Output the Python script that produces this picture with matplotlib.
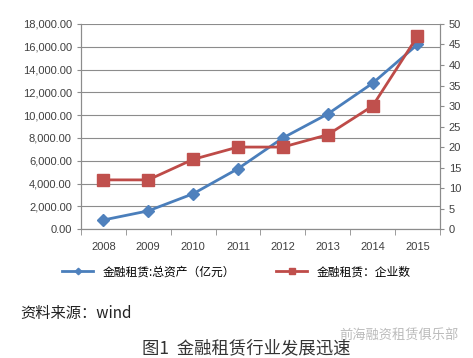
import matplotlib.pyplot as plt
import numpy as np
from matplotlib.ticker import FuncFormatter, MultipleLocator

plt.rcParams['font.family'] = ['Liberation Sans', 'Noto Sans CJK SC', 'DejaVu Sans']

years = ['2008', '2009', '2010', '2011', '2012', '2013', '2014', '2015']
total_assets = [800, 1600, 3100, 5300, 8000, 10100, 12800, 16200]
company_count = [12, 12, 17, 20, 20, 23, 30, 47]

label_assets = '金融租赁:总资产（亿元）'
label_count = '金融租赁：企业数'
source_text = '资料来源：wind'
caption = '图1  金融租赁行业发展迅速'
watermark = '前海融资租赁俱乐部'

blue = '#4A7EBB'
red = '#BE4B48'
grid_c = '#8C8C8C'
tick_c = '#404040'

fig = plt.figure(figsize=(4.73, 3.58), dpi=100)
ax = fig.add_axes([0.171, 0.360, 0.759, 0.573])
ax2 = ax.twinx()

x = np.arange(len(years))

l1, = ax.plot(x, total_assets, color=blue, lw=2, marker='D', ms=6,
              mfc='#4F81BD', mec='#4F81BD', label=label_assets, zorder=3)
l2, = ax2.plot(x, company_count, color=red, lw=2, marker='s', ms=8,
               mfc='#C0504D', mec='#C0504D', label=label_count, zorder=3)

ax.set_xlim(-0.5, len(years) - 0.5)
ax.set_ylim(0, 18000)
ax2.set_ylim(0, 50)
ax.yaxis.set_major_locator(MultipleLocator(2000))
ax2.yaxis.set_major_locator(MultipleLocator(5))
ax.yaxis.set_major_formatter(FuncFormatter(lambda v, p: f'{v:,.2f}'))

ax.set_xticks(x)
ax.set_xticklabels(years)
ax.set_xticks(np.arange(-0.5, len(years)), minor=True)
ax.tick_params(axis='x', which='major', length=0, pad=9, labelsize=8, colors=tick_c)
ax.tick_params(axis='x', which='minor', length=4, color=grid_c, direction='out')
ax.tick_params(axis='y', length=3, color=grid_c, labelsize=8, labelcolor=tick_c)
ax2.tick_params(axis='y', length=3, color=grid_c, labelsize=8, labelcolor=tick_c)

ax.grid(axis='y', color=grid_c, lw=0.8)
ax.set_axisbelow(True)
for a in (ax, ax2):
    a.spines['top'].set_visible(False)
    for s in ('left', 'right', 'bottom'):
        a.spines[s].set_color(grid_c)
        a.spines[s].set_linewidth(0.8)

fig.legend(handles=[l1, l2], loc='center', bbox_to_anchor=(0.5, 0.24), ncol=2,
           frameon=False, handlelength=2.6, columnspacing=3.5, markerscale=0.55,
           prop={'family': ['Noto Sans CJK SC'], 'size': 8.5})

fig.text(0.042, 0.125, source_text, fontsize=11, color='#222222',
         family=['Noto Sans CJK SC'], va='center')
fig.text(0.97, 0.062, watermark, fontsize=9.5, color='#BBBBBB',
         family=['Noto Sans CJK SC'], va='center', ha='right')
fig.text(0.52, 0.028, caption, fontsize=12.5, color='#333333',
         family=['Noto Sans CJK SC'], va='center', ha='center')

fig.savefig('out.png', dpi=100)
